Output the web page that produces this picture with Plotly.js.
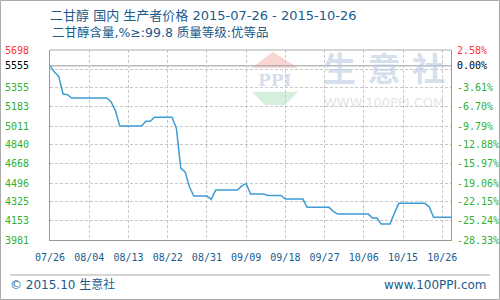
<!DOCTYPE html>
<html>
<head>
<meta charset="utf-8">
<script src="https://cdn.plot.ly/plotly-3.0.1.min.js"></script>
<style>html,body{margin:0;padding:0;background:#fff;}#chart{width:500px;height:300px;}</style>
</head>
<body>
<div id="chart"></div>
<script>
// ---- data ----
var startDate = '2015-07-26';
var endDate = '2015-10-26';
var prices = [
  5555,5500,5460,5300,5295,5264,5264,5264,5264,5264,
  5264,5264,5264,5264,5230,5150,5011,5011,5011,5011,
  5011,5011,5054,5054,5090,5090,5090,5090,5090,4990,
  4630,4597,4460,4378,4378,4378,4378,4348,4432,4432,
  4432,4432,4432,4432,4470,4492,4396,4396,4396,4396,
  4384,4384,4384,4384,4351,4351,4351,4351,4351,4276,
  4276,4276,4276,4276,4276,4240,4215,4215,4215,4215,
  4215,4215,4215,4215,4179,4179,4125,4125,4125,4222,
  4312,4312,4312,4312,4312,4312,4312,4281,4186,4186,
  4186,4186,4186
];
var xTickVals = ['2015-07-26','2015-08-04','2015-08-13','2015-08-22','2015-08-31','2015-09-09','2015-09-18','2015-09-27','2015-10-06','2015-10-15','2015-10-24'];
var xTickText = ['07/26','08/04','08/13','08/22','08/31','09/09','09/18','09/27','10/06','10/15','10/26'];
var yMin = 3981, yMax = 5698;
var leftTickVals = [3981,4153,4325,4496,4668,4840,5011,5183,5355,5555,5698];
var leftTickText = ['3981','4153','4325','4496','4668','4840','5011','5183','5355','5555','5698'];
var rightTickText = ['-28.33%','-25.24%','-22.15%','-19.06%','-15.97%','-12.88%','-9.79%','-6.70%','-3.61%','0.00%','2.58%'];
var gridVals = [4153,4325,4496,4668,4840,5011,5183,5355,5526];
var baseValue = prices[0];

var GREEN = '#33b033', RED = '#ff3333', BLUE = '#1a5b8c';
function colorize(arr) {
  return arr.map(function (t, i) {
    var c = i === arr.length - 1 ? RED : (i === arr.length - 2 ? '#000000' : GREEN);
    return '<span style="color:' + c + '">' + t + '</span>';
  });
}

var trace = {
  type: 'scatter', mode: 'lines',
  x0: startDate, dx: 86400000,
  y: prices,
  line: {color: '#3d9bd5', width: 1.5},
  xaxis: 'x', yaxis: 'y', hoverinfo: 'skip'
};
var dummyL = {type:'scatter', mode:'none', x:[startDate], y:[baseValue], xaxis:'x', yaxis:'y2', hoverinfo:'skip', showlegend:false};
var dummyR = {type:'scatter', mode:'none', x:[startDate], y:[baseValue], xaxis:'x', yaxis:'y3', hoverinfo:'skip', showlegend:false};

var CJK = 'DejaVu Sans, Noto Sans CJK SC, sans-serif';
var MONO = 'DejaVu Sans Mono, monospace';

var layout = {
  width: 500, height: 300,
  margin: {l: 50, r: 49, t: 50, b: 60, pad: 0},
  paper_bgcolor: '#ffffff', plot_bgcolor: '#ffffff',
  showlegend: false,
  title: {
    text: '二甘醇 国内 生产者价格 2015-07-26 - 2015-10-26',
    font: {family: CJK, size: 13, color: BLUE},
    x: 0.1, xanchor: 'left', xref: 'container',
    y: 0.95, yanchor: 'middle', yref: 'container'
  },
  xaxis: {
    type: 'date', range: [startDate, endDate],
    tickmode: 'array', tickvals: xTickVals, ticktext: xTickText,
    showgrid: true, gridcolor: '#c8c8c8', griddash: '3px,2px', gridwidth: 1,
    showline: true, linecolor: '#999999', linewidth: 1,
    ticks: '', ticklabelstandoff: 8,
    tickfont: {family: MONO, size: 10, color: BLUE},
    zeroline: false, fixedrange: true
  },
  yaxis: {
    range: [yMin, yMax],
    tickmode: 'array', tickvals: gridVals,
    showticklabels: false,
    showgrid: true, gridcolor: '#c8c8c8', griddash: '3px,2px', gridwidth: 1,
    showline: true, linecolor: '#999999', linewidth: 1,
    ticks: '', zeroline: false, fixedrange: true
  },
  yaxis2: {
    overlaying: 'y', side: 'left', range: [yMin, yMax],
    tickmode: 'array', tickvals: leftTickVals, ticktext: colorize(leftTickText),
    tickfont: {family: MONO, size: 10, color: GREEN},
    showgrid: false, showline: false, ticks: '', zeroline: false,
    ticklabelstandoff: 20, fixedrange: true
  },
  yaxis3: {
    overlaying: 'y', side: 'right', range: [yMin, yMax],
    tickmode: 'array', tickvals: leftTickVals, ticktext: colorize(rightTickText),
    tickfont: {family: MONO, size: 10, color: GREEN},
    showgrid: false, showline: true, linecolor: '#999999', linewidth: 1,
    ticks: '', zeroline: false, ticklabelstandoff: 3, fixedrange: true
  },
  shapes: [
    {type: 'path', xref: 'paper', yref: 'paper', layer: 'below',
     path: 'M 0.556 0.991 L 0.503 0.907 L 0.618 0.907 Z',
     fillcolor: '#f9d6d4', line: {width: 0}},
    {type: 'path', xref: 'paper', yref: 'paper', layer: 'below',
     path: 'M 0.504 0.780 L 0.618 0.780 L 0.586 0.711 L 0.536 0.711 Z',
     fillcolor: '#d6eedc', line: {width: 0}},
    {type: 'line', xref: 'paper', yref: 'paper', x0: 0, x1: 1, y0: 1, y1: 1,
     line: {color: '#aaaaaa', width: 1}},
    {type: 'line', xref: 'paper', yref: 'y', x0: 0, x1: 1, y0: baseValue, y1: baseValue,
     layer: 'between', line: {color: '#999999', width: 1}},
    {type: 'line', xref: 'paper', yref: 'paper', x0: -0.0998, x1: 1.0973, y0: -0.1842, y1: -0.1842,
     line: {color: '#aaaaaa', width: 1}},
    {type: 'rect', xref: 'paper', yref: 'paper', x0: -0.1234, x1: 1.1209, y0: -0.3132, y1: 1.2605,
     line: {color: '#aaaaaa', width: 1}, fillcolor: 'rgba(0,0,0,0)'}
  ],
  annotations: [
    {text: '二甘醇含量,%≥:99.8 质量等级:优等品', xref: 'paper', yref: 'paper',
     x: 0, y: 1.0947, xanchor: 'left', yanchor: 'middle', showarrow: false,
     font: {family: CJK, size: 12.5, color: BLUE}},
    {text: '© 2015.10 生意社', xref: 'paper', yref: 'paper',
     x: -0.1047, y: -0.2368, xanchor: 'left', yanchor: 'middle', showarrow: false,
     font: {family: CJK, size: 12, color: BLUE}},
    {text: 'www.100PPI.com', xref: 'paper', yref: 'paper',
     x: 1.0948, y: -0.2368, xanchor: 'right', yanchor: 'middle', showarrow: false,
     font: {family: CJK, size: 12, color: BLUE}},
    {text: '<b>PPI</b>', xref: 'paper', yref: 'paper', x: 0.561, y: 0.842,
     xanchor: 'center', yanchor: 'middle', showarrow: false,
     font: {family: 'DejaVu Serif, serif', size: 17, color: 'rgba(185,200,222,0.6)'}},
    {text: '<b>生 意 社</b>', xref: 'paper', yref: 'paper', x: 0.833, y: 0.895,
     xanchor: 'center', yanchor: 'middle', showarrow: false,
     font: {family: CJK, size: 33, color: 'rgba(185,202,228,0.6)'}},
    {text: 'WWW.100PPI.COM', xref: 'paper', yref: 'paper', x: 0.833, y: 0.726,
     xanchor: 'center', yanchor: 'middle', showarrow: false,
     font: {family: 'DejaVu Sans, sans-serif', size: 13, color: 'rgba(200,200,200,0.5)'}}
  ]
};

Plotly.newPlot('chart', [trace, dummyL, dummyR], layout, {displayModeBar: false, staticPlot: true});
</script>
</body>
</html>
